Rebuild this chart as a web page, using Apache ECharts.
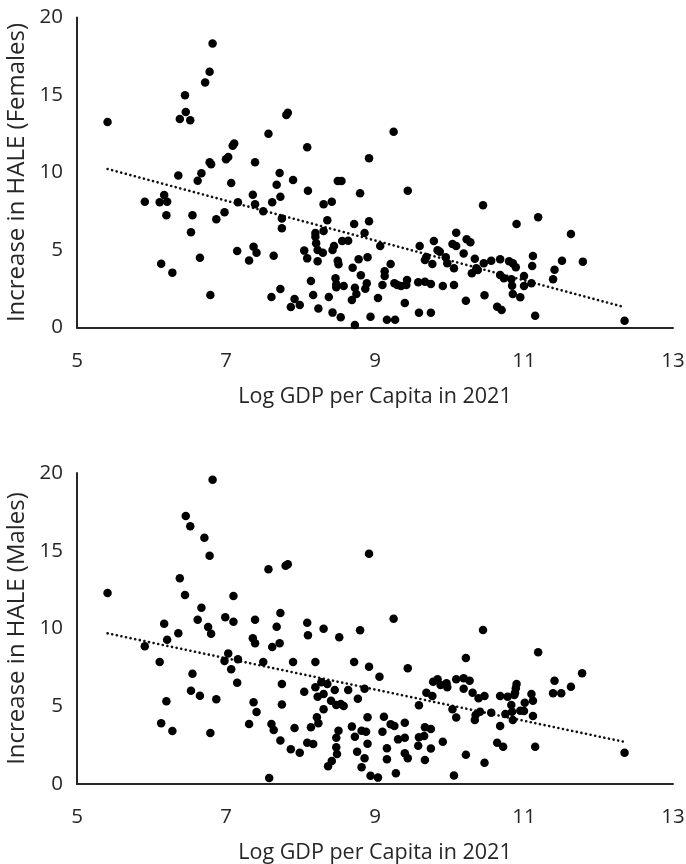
<!DOCTYPE html>
<html>
<head>
<meta charset="utf-8">
<script src="https://cdn.jsdelivr.net/npm/echarts@6/dist/echarts.min.js"></script>
<style>
  html, body { margin: 0; padding: 0; background: #ffffff; }
  #chart { width: 686px; height: 864px; }
</style>
</head>
<body>
<div id="chart"></div>
<script>
// Log GDP per capita (2021) vs. increase in healthy life expectancy, by sex
const femalesX = [5.41,6.82,6.78,6.72,6.45,6.46,6.38,6.52,7.09,7.11,7.03,7.0,6.78,6.8,6.67,6.62,6.36,7.07,6.17,5.91,6.11,6.21,6.2,6.55,6.53,6.87,6.98,7.16,7.15,6.65,6.13,6.28,6.79,7.81,7.83,7.57,9.25,8.09,7.39,8.92,7.72,7.68,7.9,8.5,8.55,7.36,8.1,8.8,9.44,7.73,7.39,7.62,7.5,8.31,8.42,7.75,7.75,8.36,8.72,8.92,8.86,8.31,8.2,8.2,8.21,8.23,8.3,8.43,8.45,8.56,8.64,9.07,7.37,7.41,7.31,7.64,8.05,8.09,8.23,8.5,8.51,8.78,8.9,9.21,8.7,8.81,9.13,9.13,8.14,8.47,8.48,8.48,8.58,8.73,8.89,8.87,9.1,9.26,9.3,9.35,9.42,9.43,9.58,9.67,9.75,9.91,10.06,9.6,9.79,9.84,9.87,9.69,9.67,9.77,9.95,9.97,10.06,10.09,10.04,10.09,7.73,7.61,7.92,7.87,7.99,8.17,8.38,8.24,8.69,8.75,9.04,9.4,8.43,8.54,8.73,8.94,9.16,9.27,9.59,9.75,10.45,11.19,10.9,11.63,10.23,10.28,10.19,10.34,10.36,10.3,10.38,10.46,10.56,10.68,10.8,10.85,10.89,10.68,10.73,10.83,10.84,11.0,11.0,11.1,11.12,11.11,11.51,11.41,11.39,11.79,10.47,10.22,10.85,10.95,10.64,10.7,11.15,12.35];
const femalesY = [13.26,18.33,16.5,15.8,14.98,13.9,13.45,13.37,11.73,11.87,11.0,10.85,10.66,10.53,9.95,9.47,9.8,9.32,8.55,8.12,8.08,8.12,7.24,7.24,6.14,6.98,7.43,8.08,4.94,4.5,4.12,3.54,2.1,13.71,13.85,12.5,12.63,11.63,10.66,10.92,9.97,9.21,9.52,9.45,9.45,8.57,8.83,8.66,8.83,8.44,7.95,8.08,7.5,7.95,8.12,7.04,6.4,6.92,6.68,6.85,6.1,6.23,6.1,5.86,5.43,5.0,4.83,5.0,5.26,5.58,5.6,5.26,5.21,4.83,4.33,4.63,4.96,4.46,4.27,4.31,4.08,4.4,4.53,4.1,3.86,3.37,3.63,3.32,3.0,3.17,2.79,2.59,2.68,2.57,2.85,2.5,2.74,2.85,2.74,2.68,2.74,3.06,2.92,2.95,2.8,2.68,2.74,5.26,5.58,4.98,4.89,4.55,4.35,4.1,4.53,4.14,3.82,6.12,5.39,5.26,2.48,1.97,1.84,1.32,1.45,2.1,1.97,1.22,1.77,2.16,1.9,1.58,0.96,0.66,0.16,0.7,0.5,0.5,0.95,0.95,7.88,7.11,6.68,6.03,5.69,5.5,4.78,4.44,3.82,3.5,3.71,4.14,4.31,4.4,4.27,4.14,3.88,3.39,3.17,3.11,2.7,3.32,2.68,2.85,4.61,3.97,4.31,3.73,3.11,4.25,2.08,1.73,2.16,1.95,1.34,1.13,0.76,0.44];

const malesX = [5.41,6.82,6.46,6.52,6.71,6.78,6.38,6.45,7.1,6.67,6.62,6.99,7.1,6.17,6.76,6.8,6.36,6.21,5.91,6.11,6.55,6.53,6.65,6.87,6.2,6.13,6.28,6.79,6.98,7.03,7.07,7.15,7.16,8.92,7.57,7.8,7.83,7.39,7.73,7.68,8.09,8.1,8.31,8.52,8.8,9.25,7.36,7.39,7.72,7.62,7.5,7.9,8.2,8.72,8.92,9.06,9.44,7.75,8.05,8.2,8.28,8.36,8.23,8.31,8.46,8.64,8.86,8.77,8.41,8.48,8.54,8.58,8.31,7.37,7.41,7.75,7.31,7.61,7.64,7.92,7.73,7.87,7.99,8.14,8.22,8.24,8.09,8.17,8.51,8.48,8.48,8.49,8.42,8.37,8.69,8.73,8.82,8.88,8.9,8.9,8.76,8.86,8.82,8.94,9.04,7.58,9.12,9.1,9.21,9.26,9.16,9.16,9.31,9.4,9.4,9.4,9.44,9.28,9.59,9.67,9.75,9.59,9.66,9.58,9.75,9.67,9.91,9.78,9.84,9.88,9.96,9.97,9.69,9.77,10.09,10.04,10.09,10.06,10.45,11.19,10.22,11.78,11.41,11.39,11.5,11.63,10.19,10.27,10.19,10.31,10.39,10.47,10.68,10.78,10.9,10.89,10.88,10.87,10.83,11.01,11.1,11.12,11.12,10.95,11.0,10.84,10.85,10.75,10.68,10.56,10.41,10.35,10.34,10.22,10.47,10.64,10.72,11.15,12.35];
const malesY = [12.28,19.57,17.23,16.57,15.84,14.68,13.23,12.15,12.09,11.34,10.57,10.72,10.44,10.31,10.1,9.67,9.69,9.28,8.86,7.85,7.09,6.0,5.68,5.45,5.32,3.9,3.41,3.28,7.91,8.4,7.38,6.51,8.02,14.81,13.81,14.04,14.13,10.57,11.0,10.12,10.37,9.56,9.99,9.43,9.88,10.63,9.37,9.05,9.05,8.81,7.85,7.85,7.85,7.85,7.54,6.9,7.44,6.43,5.94,6.22,6.54,6.43,5.61,5.79,6.05,6.05,6.13,5.49,5.36,5.08,5.14,5.02,4.8,5.25,4.63,5.12,3.86,3.86,3.47,3.6,2.79,2.23,2.01,3.65,4.29,3.9,2.66,2.57,3.43,2.98,2.36,1.93,1.48,1.14,3.69,3.04,3.43,3.36,2.59,4.29,2.08,1.65,1.07,0.53,0.41,0.39,4.33,3.36,3.84,3.73,2.3,1.59,2.87,2.98,3.94,1.97,1.65,0.69,5.06,3.65,3.54,3.0,3.09,2.46,2.29,1.54,2.72,6.58,6.73,6.37,6.48,6.22,5.87,5.66,6.73,4.8,4.27,0.54,9.9,8.47,8.1,7.12,6.64,5.83,5.83,6.26,6.8,6.64,6.13,5.87,5.51,5.66,5.66,5.61,6.43,6.15,5.87,5.72,5.08,5.23,5.79,5.36,4.37,4.71,4.69,4.65,4.12,4.5,3.73,4.59,4.65,4.44,4.12,1.88,1.37,2.66,2.4,2.4,2.01];

// Linear trendline coefficients (y = intercept + slope * x)
const femalesTrend = { intercept: 17.18, slope: -1.285 };
const malesTrend = { intercept: 15.13, slope: -1.006 };

const xTicks = [5, 7, 9, 11, 13];
const yTicks = [0, 5, 10, 15, 20];
const xTitle = 'Log GDP per Capita in 2021';
const femalesTitle = 'Increase in HALE (Females)';
const malesTitle = 'Increase in HALE (Males)';

function zip(xs, ys) { return xs.map((x, i) => [x, ys[i]]); }

// Trendline drawn across the span of the observed x values
function trendPoints(xs, coef) {
  const x0 = Math.min(...xs), x1 = Math.max(...xs);
  return [[x0, coef.intercept + coef.slope * x0], [x1, coef.intercept + coef.slope * x1]];
}

const FONT = '"Open Sans", Lato, sans-serif';
const TEXT = '#262626';
const step = xTicks[1] - xTicks[0];
const yStep = yTicks[1] - yTicks[0];

function xAxisCfg(gridIndex) {
  return {
    gridIndex, type: 'value',
    min: xTicks[0], max: xTicks[xTicks.length - 1], interval: step,
    name: xTitle, nameLocation: 'middle', nameGap: 58,
    nameTextStyle: { fontFamily: FONT, fontSize: 21.5, color: TEXT },
    axisLine: { show: true, onZero: false, lineStyle: { color: '#262626', width: 2 } },
    axisTick: { show: false },
    splitLine: { show: false },
    axisLabel: { margin: 23, fontFamily: FONT, fontSize: 20.5, color: TEXT }
  };
}
function yAxisCfg(gridIndex, title) {
  return {
    gridIndex, type: 'value',
    min: yTicks[0], max: yTicks[yTicks.length - 1], interval: yStep,
    name: title, nameLocation: 'middle', nameGap: 44,
    nameTextStyle: { fontFamily: FONT, fontSize: 24, color: TEXT },
    axisLine: { show: true, lineStyle: { color: '#262626', width: 2 } },
    axisTick: { show: false },
    splitLine: { show: false },
    axisLabel: { margin: 14, fontFamily: FONT, fontSize: 20.5, color: TEXT }
  };
}
function scatter(idx, data) {
  return {
    type: 'scatter', xAxisIndex: idx, yAxisIndex: idx, data,
    symbol: 'circle', symbolSize: 8.5,
    itemStyle: { color: '#000000', opacity: 1 }, silent: true, z: 3
  };
}
function trend(idx, data) {
  return {
    type: 'line', xAxisIndex: idx, yAxisIndex: idx, data,
    showSymbol: false, silent: true, z: 2,
    lineStyle: { color: '#111111', width: 2.6, type: [0.1, 4.6], cap: 'round' }
  };
}

const chart = echarts.init(document.getElementById('chart'), null, { renderer: 'canvas' });
chart.setOption({
  animation: false,
  backgroundColor: '#ffffff',
  grid: [
    { left: 77, right: 13, top: 17.5, height: 310, containLabel: false, outerBoundsMode: 'none' },
    { left: 77, right: 13, top: 473, height: 311, containLabel: false, outerBoundsMode: 'none' }
  ],
  xAxis: [xAxisCfg(0), xAxisCfg(1)],
  yAxis: [yAxisCfg(0, femalesTitle), yAxisCfg(1, malesTitle)],
  series: [
    scatter(0, zip(femalesX, femalesY)),
    trend(0, trendPoints(femalesX, femalesTrend)),
    scatter(1, zip(malesX, malesY)),
    trend(1, trendPoints(malesX, malesTrend))
  ]
});
</script>
</body>
</html>
